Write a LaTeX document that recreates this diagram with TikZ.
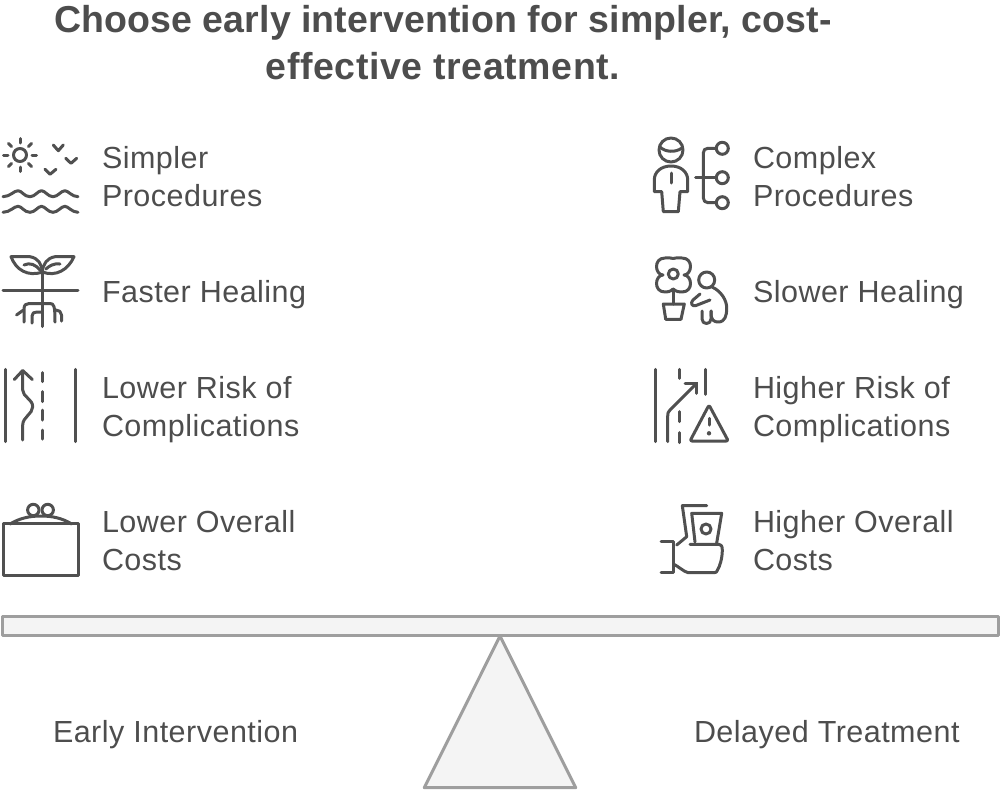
\documentclass[tikz,border=0pt]{standalone}
\usepackage{fontspec}
\usetikzlibrary{calc}
\setmainfont[LetterSpace=1.6]{Liberation Sans}
\definecolor{ink}{HTML}{4D4D4D}
\definecolor{icon}{HTML}{505050}
\definecolor{bar}{HTML}{9E9E9E}
\definecolor{barfill}{HTML}{F4F4F4}
\newcommand{\labfont}{\fontsize{30.5}{38}\selectfont}
\tikzset{
  x=1pt,y=-1pt,
  lab/.style={anchor=base west,inner sep=0pt,outer sep=0pt,align=left,text=ink,font=\labfont},
  ttl/.style={anchor=base,inner sep=0pt,outer sep=0pt,align=center,text=ink,font=\fontsize{37.5}{47}\selectfont\bfseries},
  ico/.style={draw=icon,line width=3pt,line cap=round,line join=round,fill=none},
  scale part/.style={draw=bar,fill=barfill,line width=3pt,line join=round}
}
\begin{document}
\begin{tikzpicture}
\useasboundingbox (0,0) rectangle (1000,790);
% title
\node[ttl] (title) at (443,79) {{\addfontfeature{LetterSpace=0.3}Choose early intervention for simpler, cost-}\\effective treatment.};
% labels
\node[lab] (l1) at (102,206) {Simpler\\Procedures};
\node[lab] (l2) at (102,302) {Faster Healing};
\node[lab] (l3) at (102,436) {Lower Risk of\\Complications};
\node[lab] (l4) at (102,570) {Lower Overall\\Costs};
\node[lab] (r1) at (753,206) {Complex\\Procedures};
\node[lab] (r2) at (753,302) {Slower Healing};
\node[lab] (r3) at (753,436) {Higher Risk of\\Complications};
\node[lab] (r4) at (753,570) {Higher Overall\\Costs};
\node[lab] (e) at (53,742) {Early Intervention};
\node[lab] (d) at (694,742) {Delayed Treatment};
% scale
\draw[scale part] (2,616) rectangle (998,635.5);
\draw[scale part] (500,636) -- (575.7,787.7) -- (424.3,787.7) -- cycle;
% sun, birds, waves
\draw[ico] (20,155) circle (6.5);
\foreach \a in {0,45,...,315}
  \draw[ico] ($(20,155)+(\a:12)$) -- ($(20,155)+(\a:16.5)$);
\draw[ico] (53.3,145) -- (58.3,150.7) -- (63.3,145);
\draw[ico] (65.7,158.3) -- (71,163.3) -- (76.7,158.3);
\draw[ico] (45,169.3) -- (50,174.3) -- (56,169.3);
\foreach \y in {196.7,212.3}{
  \draw[ico] (3,\y) .. controls (10,\y) and (14,\y-6) .. (18,\y-6)
    .. controls (22,\y-6) and (24,\y) .. (30,\y)
    .. controls (35,\y) and (38,\y-6) .. (41.5,\y-6)
    .. controls (45,\y-6) and (48,\y) .. (53,\y)
    .. controls (58,\y) and (61,\y-6) .. (65,\y-6)
    .. controls (68,\y-6) and (72,\y) .. (78,\y);
}
% plant
\draw[ico] (3,290.7) -- (78,290.7);
\draw[ico] (42.3,268) -- (42.3,326.5);
\draw[ico] (11,256.7) -- (30,256.7) .. controls (38,258) and (42,264) .. (42.3,272)
   .. controls (28,277) and (16,270) .. (11,256.7) -- cycle;
\draw[ico] (74,256.7) -- (55,256.7) .. controls (47,258) and (43,264) .. (42.3,272)
   .. controls (56,277) and (68,270) .. (74,256.7) -- cycle;
\draw[ico] (24,265) .. controls (30,262) and (36,265) .. (40,270);
\draw[ico] (60,264) .. controls (54,263) and (49,266) .. (46,269);
\draw[ico] (24,322) -- (24,309) .. controls (24,305) and (26,303.5) .. (29,303.5) -- (50,303.5) .. controls (54,303.5) and (55,306) .. (55,322);
\draw[ico] (16.5,315) -- (23.5,310);
\draw[ico] (32,323) -- (32,316) .. controls (32,313) and (34,312) .. (37,312) -- (42,312);
\draw[ico] (61.5,321) -- (61.5,315) .. controls (61.5,312) and (59,310) .. (56,310);
% road left
\draw[ico] (5.7,369.3) -- (5.7,441.7);
\draw[ico] (75.7,369.3) -- (75.7,441.7);
\draw[ico] (22.7,440) -- (22.7,425) .. controls (22.7,417) and (32.7,414) .. (32.7,406.7) .. controls (32.7,399) and (22.7,397) .. (22.7,390) -- (22.7,371.7);
\draw[ico] (14.3,379.5) -- (22.7,370.5) -- (32.3,379.5);
\foreach \a/\b in {372.7/381.7,391.7/401.7,410/420,430/439}
  \draw[ico] (42.3,\a) -- (42.3,\b);
% box
\draw[ico] (3.3,523.3) rectangle (78.3,575);
\draw[ico] (10,524) .. controls (20,518) and (30,516) .. (41,516) .. controls (52,516) and (62,518) .. (71.7,524);
\draw[ico] (33.3,510) circle (5.7);
\draw[ico] (47.7,510) circle (5.7);
% person + tree
\draw[ico] (671,150) circle (12);
\draw[ico] (660,147) .. controls (665,152) and (675,153) .. (682,148);
\draw[ico] (654.3,191.7) -- (654.3,180) .. controls (654.3,172) and (661,166) .. (671,166) .. controls (681,166) and (687.7,172) .. (687.7,180) -- (687.7,191.7) -- (680,191.7) -- (678.3,211.7) -- (663.3,211.7) -- (661.7,191.7) -- cycle;
\draw[ico] (671,173) -- (671,183);
\draw[ico] (695.7,177.7) -- (716,177.7);
\draw[ico] (716,148.3) -- (708,148.3) .. controls (705,148.3) and (703.3,150) .. (703.3,153) -- (703.3,197.7) .. controls (703.3,200.7) and (705,202.7) .. (708,202.7) -- (716,202.7);
\foreach \y in {148.3,177.7,202.7}
  \draw[ico] (722.3,\y) circle (6);
% flower + person
\draw[ico] (673.3,274) circle (5);
\draw[ico] (663,275) .. controls (655,275) and (653,258) .. (665,258) .. controls (667,258) and (669,257.5) .. (673,258.5) .. controls (677,257.5) and (680,258) .. (682,258) .. controls (694,258) and (692,275) .. (684,275) .. controls (692,275) and (694,292) .. (682,292) .. controls (679,292) and (677,292) .. (673,289) .. controls (670,292) and (667,292) .. (665,292) .. controls (653,292) and (655,275) .. (663,275) -- cycle;
\draw[ico] (673.3,289) -- (673.3,304);
\draw[ico] (663.3,304) -- (684.3,304) -- (681,319.3) -- (665.7,319.3) -- cycle;
\draw[ico] (706.7,280) circle (8);
\draw[ico] (712,287) .. controls (721,291) and (726.7,300) .. (726.7,308) .. controls (726.7,316) and (725,322) .. (718,322) .. controls (714,322) and (711,320) .. (711,313) -- (711,311);
\draw[ico] (711,311) -- (711,319) .. controls (711,325) and (702,325) .. (702,319) -- (702,311);
\draw[ico] (700,294) -- (693,300) .. controls (690,303) and (692,307) .. (696,305.5) -- (710,300);
% road + warning
\draw[ico] (655.7,369.3) -- (655.7,441.7);
\draw[ico] (705,369.3) -- (705,394.3);
\draw[ico] (667.7,441.7) -- (667.7,416) .. controls (667.7,413) and (668,412) .. (670,410) -- (696.7,383.3);
\draw[ico] (685,383.3) -- (696.7,383.3) -- (696.7,393.3);
\foreach \a/\b in {369.3/378.3,411.7/421.7,432.7/442.7}
  \draw[ico] (679.3,\a) -- (679.3,\b);
\draw[ico,rounded corners=2pt] (709,405) -- (728.3,441) -- (690,441) -- cycle;
\draw[ico] (709,418.3) -- (709,425);
\fill[icon] (709,433.3) circle (2.2);
% money hand
\draw[ico] (706.7,505.7) -- (682.3,505.7) -- (686.7,536.7) -- (676.7,545);
\draw[ico] (695,542) -- (691.7,513.3) -- (721.7,513.3) -- (716.7,543);
\draw[ico] (706,529) circle (5);
\draw[ico] (661,541) -- (673.3,541) -- (673.3,572.7) -- (661,572.7);
\draw[ico] (690,544.3) -- (719,544.3) .. controls (721,544.3) and (722.3,546) .. (722.3,550) .. controls (722.3,558) and (720,566) .. (717.5,570) .. controls (717,572) and (716,572.7) .. (714,572.7) -- (688.3,572.7) .. controls (684,572) and (678,566) .. (673.3,564);
\end{tikzpicture}
\end{document}
